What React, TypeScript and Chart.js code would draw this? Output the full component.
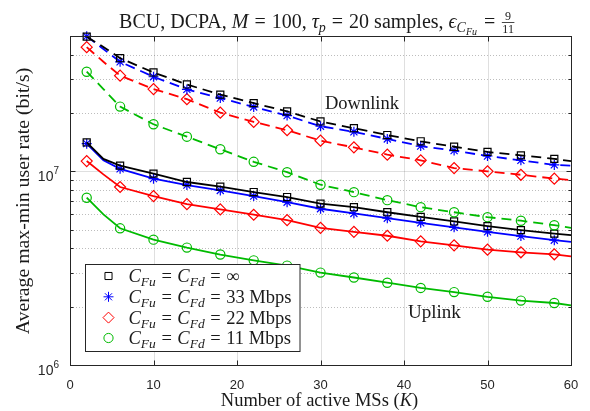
import React, { useEffect, useRef } from 'react';
import { Chart, registerables } from 'chart.js';
import { drawPoint } from 'chart.js/helpers';

Chart.register(...registerables);

// K values where the curves are sampled (markers only at markerK)
const kValues = [2, 4, 6, 10, 14, 18, 22, 26, 30, 34, 38, 42, 46, 50, 54, 58, 60];
const markerK = [2, 6, 10, 14, 18, 22, 26, 30, 34, 38, 42, 46, 50, 54, 58];

// Downlink (dashed)
const dlInf = [4.96e7, 4.39e7, 3.84e7, 3.24e7, 2.81e7, 2.49e7, 2.25e7, 2.04e7, 1.81e7, 1.67e7, 1.54e7, 1.43e7, 1.34e7, 1.26e7, 1.21e7, 1.16e7, 1.13e7];
const dl33 = [4.98e7, 4.28e7, 3.68e7, 3.08e7, 2.65e7, 2.39e7, 2.15e7, 1.94e7, 1.71e7, 1.6e7, 1.47e7, 1.35e7, 1.28e7, 1.2e7, 1.14e7, 1.08e7, 1.07e7];
const dl22 = [4.38e7, 3.68e7, 3.12e7, 2.66e7, 2.36e7, 2.01e7, 1.8e7, 1.63e7, 1.44e7, 1.33e7, 1.22e7, 1.14e7, 1.04e7, 1.0e7, 9.6e6, 9.17e6, 9.02e6];
const dl11 = [3.27e7, 2.66e7, 2.16e7, 1.75e7, 1.51e7, 1.3e7, 1.12e7, 9.9e6, 8.53e6, 7.81e6, 7.1e6, 6.53e6, 6.15e6, 5.8e6, 5.56e6, 5.27e6, 5.11e6];
// Uplink (solid)
const ulInf = [1.41e7, 1.16e7, 1.07e7, 9.73e6, 8.81e6, 8.34e6, 7.82e6, 7.37e6, 6.81e6, 6.53e6, 6.15e6, 5.82e6, 5.51e6, 5.21e6, 4.97e6, 4.77e6, 4.68e6];
const ul33 = [1.39e7, 1.14e7, 1.03e7, 9.17e6, 8.49e6, 7.97e6, 7.45e6, 6.93e6, 6.41e6, 6.06e6, 5.73e6, 5.42e6, 5.14e6, 4.87e6, 4.63e6, 4.41e6, 4.32e6];
const ul22 = [1.13e7, 9.65e6, 8.3e6, 7.45e6, 6.77e6, 6.36e6, 5.97e6, 5.6e6, 5.11e6, 4.87e6, 4.65e6, 4.35e6, 4.15e6, 3.94e6, 3.82e6, 3.73e6, 3.64e6];
const ul11 = [7.31e6, 5.99e6, 5.08e6, 4.44e6, 4.04e6, 3.72e6, 3.47e6, 3.26e6, 3.0e6, 2.83e6, 2.66e6, 2.5e6, 2.38e6, 2.25e6, 2.15e6, 2.09e6, 2.03e6];

const xTicks = [0, 10, 20, 30, 40, 50, 60];
const yMajor = [1e6, 1e7];
const yMinor = [2e6, 3e6, 4e6, 5e6, 6e6, 7e6, 8e6, 9e6, 2e7, 3e7, 4e7, 5e7];
const yMajorExp = ['6', '7'];

const legendCap = ['\u221E', '33 Mbps', '22 Mbps', '11 Mbps'];

const COLORS = ['#000000', '#0000ff', '#ff0000', '#00bb00'];
const STYLES = ['rect', 'star', 'rectRot', 'circle'];
const RADII = [5, 5, 5.5, 4.6];

const SERIF = '"Liberation Serif", "DejaVu Serif", serif';
const SANS = '"Liberation Sans", Arial, sans-serif';
const AXIS = '#262626';

type Seg = {
  t?: string;
  it?: boolean;
  size: number;
  dy?: number;
  padL?: number;
  padR?: number;
  frac?: [string, string];
};

function fontOf(s: Seg) {
  return `${s.it ? 'italic ' : ''}${s.size}px ${SERIF}`;
}

function segW(ctx: CanvasRenderingContext2D, s: Seg) {
  ctx.font = fontOf(s);
  if (s.frac) {
    const a = ctx.measureText(s.frac[0]).width;
    const b = ctx.measureText(s.frac[1]).width;
    return Math.max(a, b) + 2;
  }
  return ctx.measureText(s.t || '').width + (s.padL || 0) + (s.padR || 0);
}

function drawRich(ctx: CanvasRenderingContext2D, segs: Seg[], x: number, y: number, align: 'left' | 'center') {
  const widths = segs.map((s) => segW(ctx, s));
  const total = widths.reduce((a, b) => a + b, 0);
  let cx = align === 'center' ? x - total / 2 : x;
  ctx.textBaseline = 'alphabetic';
  ctx.textAlign = 'left';
  segs.forEach((s, i) => {
    ctx.font = fontOf(s);
    if (s.frac) {
      const w = widths[i];
      const barY = y - 5.5;
      ctx.textAlign = 'center';
      ctx.fillText(s.frac[0], cx + w / 2, barY - 2.5);
      ctx.fillText(s.frac[1], cx + w / 2, barY + 10.5);
      ctx.textAlign = 'left';
      ctx.save();
      ctx.lineWidth = 0.8;
      ctx.beginPath();
      ctx.moveTo(cx + 0.5, barY);
      ctx.lineTo(cx + w - 0.5, barY);
      ctx.stroke();
      ctx.restore();
    } else {
      ctx.fillText(s.t || '', cx + (s.padL || 0), y + (s.dy || 0));
    }
    cx += widths[i];
  });
}

function eq(size: number): Seg {
  return { t: '=', size, padL: size * 0.3, padR: size * 0.3 };
}

const decorPlugin = {
  id: 'decor',
  beforeDatasetsDraw(chart: any) {
    const { ctx, chartArea: a, scales } = chart;
    const xs = scales.x;
    const ys = scales.y;
    ctx.save();
    ctx.lineWidth = 1;
    // minor dotted grid
    ctx.strokeStyle = 'rgba(38,38,38,0.3)';
    ctx.setLineDash([1, 2]);
    yMinor.forEach((v) => {
      const py = Math.round(ys.getPixelForValue(v)) + 0.5;
      ctx.beginPath();
      ctx.moveTo(a.left, py);
      ctx.lineTo(a.right, py);
      ctx.stroke();
    });
    ctx.setLineDash([]);
    ctx.strokeStyle = 'rgba(38,38,38,0.15)';
    xTicks.slice(1, -1).forEach((v) => {
      const px = Math.round(xs.getPixelForValue(v)) + 0.5;
      ctx.beginPath();
      ctx.moveTo(px, a.top);
      ctx.lineTo(px, a.bottom);
      ctx.stroke();
    });
    yMajor.forEach((v) => {
      const py = Math.round(ys.getPixelForValue(v)) + 0.5;
      ctx.beginPath();
      ctx.moveTo(a.left, py);
      ctx.lineTo(a.right, py);
      ctx.stroke();
    });
    ctx.restore();
  },
  afterDatasetsDraw(chart: any) {
    const { ctx, chartArea: a, scales } = chart;
    const xs = scales.x;
    const ys = scales.y;
    ctx.save();
    // axes box
    ctx.strokeStyle = AXIS;
    ctx.lineWidth = 1;
    const L = Math.round(a.left) + 0.5;
    const R = Math.round(a.right) + 0.5;
    const T = Math.round(a.top) + 0.5;
    const B = Math.round(a.bottom) + 0.5;
    ctx.strokeRect(L, T, R - L, B - T);
    // ticks
    ctx.beginPath();
    xTicks.forEach((v) => {
      const px = Math.round(xs.getPixelForValue(v)) + 0.5;
      ctx.moveTo(px, B);
      ctx.lineTo(px, B - 5);
      ctx.moveTo(px, T);
      ctx.lineTo(px, T + 5);
    });
    yMajor.forEach((v) => {
      const py = Math.round(ys.getPixelForValue(v)) + 0.5;
      ctx.moveTo(L, py);
      ctx.lineTo(L + 5, py);
      ctx.moveTo(R, py);
      ctx.lineTo(R - 5, py);
    });
    yMinor.forEach((v) => {
      const py = Math.round(ys.getPixelForValue(v)) + 0.5;
      ctx.moveTo(L, py);
      ctx.lineTo(L + 3, py);
      ctx.moveTo(R, py);
      ctx.lineTo(R - 3, py);
    });
    ctx.stroke();

    // tick labels
    ctx.fillStyle = AXIS;
    ctx.font = `13px ${SANS}`;
    ctx.textAlign = 'center';
    ctx.textBaseline = 'alphabetic';
    xTicks.forEach((v) => {
      ctx.fillText(String(v), xs.getPixelForValue(v), B + 23);
    });
    yMajor.forEach((v, i) => {
      const py = ys.getPixelForValue(v);
      ctx.font = `10px ${SANS}`;
      const ew = ctx.measureText(yMajorExp[i]).width;
      ctx.textAlign = 'right';
      ctx.fillText(yMajorExp[i], 59, py + 3);
      ctx.font = `14px ${SANS}`;
      ctx.fillText('10', 59 - ew, py + 9.7);
    });

    // texts
    ctx.fillStyle = '#1a1a1a';
    ctx.strokeStyle = '#1a1a1a';
    const ts = 20;
    drawRich(ctx, [
      { t: 'BCU, DCPA, ', size: ts },
      { t: 'M', it: true, size: ts },
      eq(ts),
      { t: '100, ', size: ts },
      { t: '\u03C4', it: true, size: ts },
      { t: 'p', it: true, size: 14, dy: 4 },
      eq(ts),
      { t: '20 samples, ', size: ts },
      { t: '\u03F5', it: true, size: ts },
      { t: 'C', it: true, size: 14, dy: 4 },
      { t: 'Fu', it: true, size: 10, dy: 7, padR: 1 },
      eq(ts),
      { frac: ['9', '11'], size: 12 },
    ], 317, 28, 'center');

    const ls = 18.5;
    drawRich(ctx, [
      { t: 'Number of active MSs (', size: ls },
      { t: 'K', it: true, size: ls },
      { t: ')', size: ls },
    ], 319.5, 406, 'center');

    ctx.save();
    ctx.translate(28.5, 201);
    ctx.rotate(-Math.PI / 2);
    drawRich(ctx, [{ t: 'Average max-min user rate (bit/s)', size: 19.8 }], 0, 0, 'center');
    ctx.restore();

    drawRich(ctx, [{ t: 'Downlink', size: 18.5 }], 325, 109, 'left');
    drawRich(ctx, [{ t: 'Uplink', size: 19 }], 408, 318, 'left');

    // legend
    const lx = 85.5, ly = 264.5, lw = 214.5, lh = 87;
    ctx.fillStyle = '#ffffff';
    ctx.fillRect(lx, ly, lw, lh);
    ctx.strokeStyle = AXIS;
    ctx.lineWidth = 1;
    ctx.strokeRect(lx, ly, lw, lh);
    const rows = [276, 296.8, 317.6, 338];
    rows.forEach((ry, i) => {
      ctx.save();
      ctx.strokeStyle = COLORS[i];
      ctx.fillStyle = 'rgba(0,0,0,0)';
      drawPoint(ctx, { pointStyle: STYLES[i], rotation: 0, radius: RADII[i], borderWidth: 1.2 } as any, 108.5, ry);
      ctx.restore();
      ctx.fillStyle = '#1a1a1a';
      const fs = 18.5;
      drawRich(ctx, [
        { t: 'C', it: true, size: fs },
        { t: 'Fu', it: true, size: 13.5, dy: 4 },
        eq(fs),
        { t: 'C', it: true, size: fs },
        { t: 'Fd', it: true, size: 13.5, dy: 4 },
        eq(fs),
        { t: legendCap[i], size: fs },
      ], 128.5, ry + 6, 'left');
    });
    ctx.restore();
  },
};

const seriesValues = [dlInf, dl33, dl22, dl11, ulInf, ul33, ul22, ul11];

export default function App() {
  const ref = useRef<HTMLCanvasElement | null>(null);
  useEffect(() => {
    document.body.style.margin = '0';
    if (!ref.current) return;
    const datasets = seriesValues.map((vals, idx) => {
      const c = idx % 4;
      const dashed = idx < 4;
      return {
        label: (dashed ? 'DL ' : 'UL ') + legendCap[c],
        data: kValues.map((k, j) => ({ x: k, y: vals[j] })),
        borderColor: COLORS[c],
        backgroundColor: 'rgba(0,0,0,0)',
        borderWidth: 1.8,
        borderDash: dashed ? [10, 6] : [],
        pointStyle: STYLES[c],
        pointRadius: (ctx: any) => (markerK.includes(kValues[ctx.dataIndex]) ? RADII[c] : 0),
        pointBorderColor: COLORS[c],
        pointBackgroundColor: 'rgba(0,0,0,0)',
        pointBorderWidth: 1.2,
        pointHoverRadius: 0,
        tension: 0,
        fill: false,
        clip: false as any,
      };
    });
    const chart = new Chart(ref.current, {
      type: 'line',
      data: { datasets },
      options: {
        animation: false,
        responsive: false,
        devicePixelRatio: 1,
        events: [],
        layout: { padding: { left: 70, top: 36, right: 19, bottom: 46 } },
        plugins: { legend: { display: false }, title: { display: false }, tooltip: { enabled: false } },
        scales: {
          x: { type: 'linear', min: 0, max: 60, display: false },
          y: { type: 'logarithmic', min: 1e6, max: 5e7, display: false },
        },
      },
      plugins: [decorPlugin],
    } as any);
    return () => chart.destroy();
  }, []);
  return (
    <div style={{ width: 590, height: 411 }}>
      <canvas ref={ref} width={590} height={411} style={{ display: 'block' }} />
    </div>
  );
}
